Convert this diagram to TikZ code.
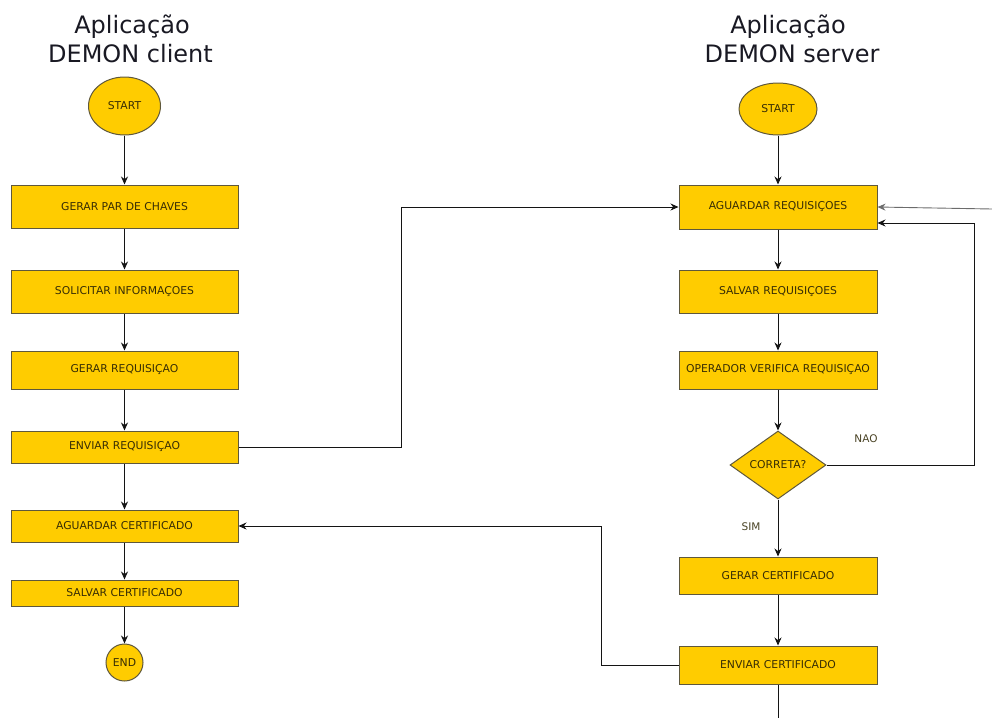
\documentclass[tikz,border=0pt]{standalone}
\usepackage{fontspec}
\setmainfont{DejaVu Sans}
\usetikzlibrary{shapes.geometric,arrows.meta}
\definecolor{boxfill}{RGB}{255,204,0}
\definecolor{boxline}{RGB}{95,88,60}
\definecolor{boxtext}{RGB}{55,45,5}
\definecolor{wire}{RGB}{20,20,20}
\definecolor{titletext}{RGB}{25,25,35}
\tikzset{
  base/.style={draw=boxline, fill=boxfill, line width=1pt, text=boxtext,
    font=\fontsize{10.8}{12}\selectfont, inner sep=0pt},
  stepbox/.style={base, rectangle},
  terminal/.style={base, ellipse},
  decision/.style={base, diamond},
  arr/.style={draw=wire, line width=0.9pt, -{Stealth[length=8pt,width=7pt]}},
  plain/.style={draw=wire, line width=0.9pt},
  title/.style={text=titletext, font=\fontsize{24}{28}\selectfont, anchor=base, inner sep=0pt},
  tag/.style={text=boxtext!75!gray, font=\fontsize{10.5}{12}\selectfont}
}
\begin{document}
\begin{tikzpicture}[x=1pt,y=-1pt]
\useasboundingbox (0,0) rectangle (992,718);

% titles
\node[title] (tc1) at (132,33) {Aplicação};
\node[title] (tc2) at (130.5,62) {DEMON client};
\node[title] (ts1) at (788,33) {Aplicação};
\node[title] (ts2) at (792,62) {DEMON server};

% client column
\node[terminal, minimum width=72pt, minimum height=58pt] (cstart) at (124.5,106) {START};
\node[stepbox, minimum width=227pt, minimum height=43pt] (chaves) at (124.5,206.5) {GERAR PAR DE CHAVES};
\node[stepbox, minimum width=227pt, minimum height=43pt] (info) at (124.5,291.5) {SOLICITAR INFORMAÇOES};
\node[stepbox, minimum width=227pt, minimum height=38pt] (greq) at (124.5,370) {GERAR REQUISIÇAO};
\node[stepbox, minimum width=227pt, minimum height=32pt] (ereq) at (124.5,447) {ENVIAR REQUISIÇAO};
\node[stepbox, minimum width=227pt, minimum height=32pt] (acert) at (124.5,526) {AGUARDAR CERTIFICADO};
\node[stepbox, minimum width=227pt, minimum height=26pt] (scert) at (124.5,593) {SALVAR CERTIFICADO};
\node[terminal, minimum width=37pt, minimum height=37pt] (cend) at (124.5,662.5) {END};

% server column
\node[terminal, minimum width=78pt, minimum height=52pt] (sstart) at (778,109) {START};
\node[stepbox, minimum width=198pt, minimum height=44pt] (areq) at (778,207) {AGUARDAR REQUISIÇOES};
\node[stepbox, minimum width=198pt, minimum height=43pt] (sreq) at (778,291.5) {SALVAR REQUISIÇOES};
\node[stepbox, minimum width=198pt, minimum height=38pt] (vreq) at (778,370) {OPERADOR VERIFICA REQUISIÇAO};
\node[decision, minimum width=96pt, minimum height=68pt] (ok) at (778,465) {CORRETA?};
\node[stepbox, minimum width=198pt, minimum height=37pt] (gcert) at (778,575.5) {GERAR CERTIFICADO};
\node[stepbox, minimum width=198pt, minimum height=38pt] (ecert) at (778,665) {ENVIAR CERTIFICADO};

% client flow
\draw[arr] (cstart) -- (chaves);
\draw[arr] (chaves) -- (info);
\draw[arr] (info) -- (greq);
\draw[arr] (greq) -- (ereq);
\draw[arr] (ereq) -- (acert);
\draw[arr] (acert) -- (scert);
\draw[arr] (scert) -- (cend);

% server flow
\draw[arr] (sstart) -- (areq);
\draw[arr] (areq) -- (sreq);
\draw[arr] (sreq) -- (vreq);
\draw[arr] (vreq) -- (ok);
\draw[arr] (ok) -- (gcert);
\draw[arr] (gcert) -- (ecert);
\coordinate (down) at (778,718);
\draw[plain] (ecert) -- (down);

% cross links
\draw[arr] (ereq.east) -- ++(163,0) |- (areq.west);
\draw[arr] (ecert.west) -- ++(-77,0) |- (acert.east);
\draw[arr] (ok.east) -- ++(148,0) |- ([yshift=-16pt]areq.east);
\coordinate (ext) at (992,209);
\draw[arr, draw=gray!85!black] (ext) -- (areq.east);

% branch labels
\node[tag] (nao) at (866,439) {NAO};
\node[tag] (sim) at (751,527) {SIM};
\end{tikzpicture}
\end{document}
